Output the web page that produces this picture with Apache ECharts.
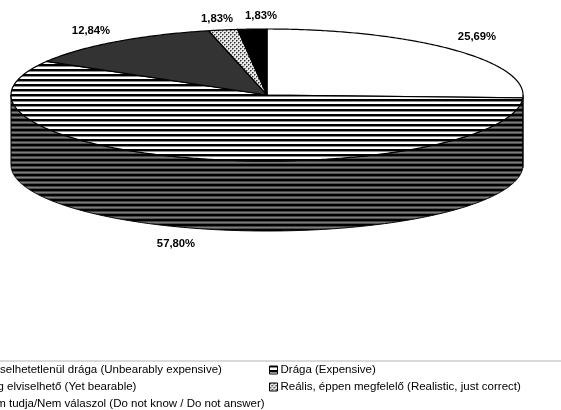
<!DOCTYPE html>
<html>
<head>
<meta charset="utf-8">
<style>html,body{margin:0;padding:0;background:#fff}#chart{width:561px;height:410px}</style>
<script src="https://cdn.jsdelivr.net/npm/echarts@6/dist/echarts.min.js"></script>
</head>
<body>
<div id="chart"></div>
<script>
// Price perception survey: answer names and shares in percent, clockwise from 12 o'clock
const answers = [
  'Elviselhetetlenül drága (Unbearably expensive)',
  'Drága (Expensive)',
  'Még elviselhető (Yet bearable)',
  'Reális, éppen megfelelő (Realistic, just correct)',
  'Nem tudja/Nem válaszol (Do not know / Do not answer)'
];
const shares = [25.69, 57.80, 12.84, 1.83, 1.83];

// Drum geometry of the tilted pie
const drum = { cx: 267, cy: 95, rx: 256, ry: 66, depth: 70 };
// Where each percentage is centred
const labelAnchors = [[477, 37], [176, 244], [91, 31], [217, 19], [261, 16]];

// Tile builder: paint(ctx) fills a w x h tile
function tile(w, h, paint) {
  const c = document.createElement('canvas');
  c.width = w; c.height = h;
  paint(c.getContext('2d'));
  return { image: c, repeat: 'repeat' };
}
function bands(rows) {
  return tile(1, rows.length, ctx => rows.forEach((col, y) => {
    ctx.fillStyle = col; ctx.fillRect(0, y, 1, 1);
  }));
}
const whiteStripes = bands(['#000', '#8a8a8a', '#fff', '#fff', '#000']);
const greyStripes = bands(['#000', '#444', '#7c7c7c', '#505050', '#000']);
const dots = tile(4, 4, ctx => {
  ctx.fillStyle = '#e8e8e8'; ctx.fillRect(0, 0, 4, 4);
  ctx.fillStyle = '#333'; ctx.fillRect(0, 0, 1, 1); ctx.fillRect(2, 2, 1, 1);
  ctx.fillStyle = '#888'; ctx.fillRect(1, 0, 1, 1); ctx.fillRect(0, 1, 1, 1);
  ctx.fillRect(3, 2, 1, 1); ctx.fillRect(2, 3, 1, 1);
});
const topFills = ['#ffffff', whiteStripes, '#333333', dots, '#000000'];
const sideFills = ['#808080', greyStripes, '#1a1a1a', '#707070', '#000000'];

const total = shares.reduce((a, b) => a + b, 0);
const startAngles = [];
shares.reduce((acc, v, i) => { startAngles[i] = acc; return acc + v / total * 2 * Math.PI; }, 0);

function rimPoint(t, dy) {
  return [drum.cx + drum.rx * Math.sin(t), drum.cy + dy - drum.ry * Math.cos(t)];
}
function arc(a, b, dy) {
  const n = Math.max(2, Math.ceil(Math.abs(b - a) / 0.01));
  const pts = [];
  for (let i = 0; i <= n; i++) pts.push(rimPoint(a + (b - a) * i / n, dy));
  return pts;
}

function sliceRenderer(index) {
  return function (params, api) {
    const value = api.value(0);
    const a0 = startAngles[index];
    const a1 = a0 + value / total * 2 * Math.PI;
    const children = [];
    // Wall: only the part of the rim that faces the viewer
    const from = Math.max(a0, Math.PI / 2), to = Math.min(a1, Math.PI * 1.5);
    if (to > from) {
      children.push({
        type: 'polygon',
        shape: { points: arc(from, to, 0).concat(arc(to, from, drum.depth)) },
        style: { fill: sideFills[index], stroke: '#000', lineWidth: 1 }
      });
    }
    children.push({
      type: 'polygon',
      shape: { points: [[drum.cx, drum.cy]].concat(arc(a0, a1, 0)) },
      style: { fill: topFills[index], stroke: '#000', lineWidth: 1.2, lineJoin: 'round' }
    });
    children.push({
      type: 'text',
      style: {
        x: labelAnchors[index][0], y: labelAnchors[index][1],
        text: value.toFixed(2).replace('.', ',') + '%',
        font: 'bold 11.3px "Liberation Sans"',
        fill: '#000', align: 'center', verticalAlign: 'middle'
      }
    });
    return { type: 'group', children };
  };
}

function legendBlock(left, top, names) {
  return {
    orient: 'vertical', left, top, padding: 0, itemGap: 5,
    itemWidth: 8, itemHeight: 8, icon: 'rect',
    selectedMode: false,
    textStyle: { fontFamily: 'Liberation Sans', fontSize: 11.5, color: '#000', padding: [0, 0, 0, -2] },
    data: names.map(name => ({
      name,
      itemStyle: { color: topFills[answers.indexOf(name)], borderColor: '#000', borderWidth: 1 }
    }))
  };
}

const chart = echarts.init(document.getElementById('chart'), null, { renderer: 'canvas' });
chart.setOption({
  animation: false,
  backgroundColor: '#fff',
  legend: [
    legendBlock(-30, 364, [answers[0], answers[2], answers[4]]),
    legendBlock(269, 364, [answers[1], answers[3]])
  ],
  graphic: [{
    type: 'line', shape: { x1: 0, y1: 361, x2: 561, y2: 361 },
    style: { stroke: '#b4b4b4', lineWidth: 1 }
  }],
  series: answers.map((name, i) => ({
    type: 'custom', name, coordinateSystem: 'none',
    data: [[shares[i]]],
    itemStyle: { color: topFills[i] },
    renderItem: sliceRenderer(i)
  }))
});
</script>
</body>
</html>
